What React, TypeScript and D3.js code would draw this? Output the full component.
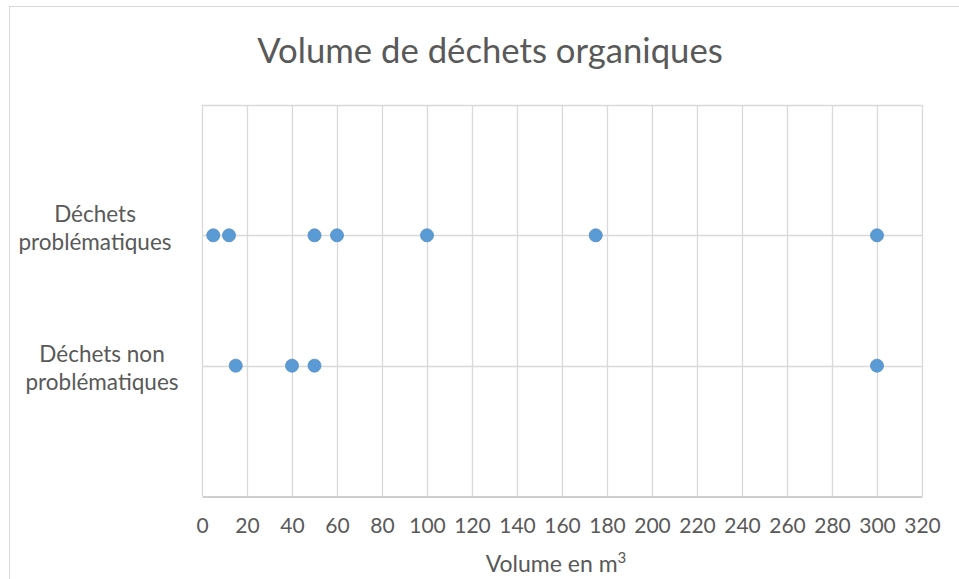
import React from "react";
import * as d3 from "d3";

const categories = ["Déchets non problématiques", "Déchets problématiques"];
const problematiques = [5, 12, 50, 60, 100, 175, 300];
const nonProblematiques = [15, 40, 50, 300];
const xTicks = d3.range(0, 321, 20);

export default function App() {
  const ref = React.useRef<SVGSVGElement>(null);

  React.useEffect(() => {
    const width = 959;
    const height = 579;
    const marginTop = 105;
    const marginLeft = 202;
    const plotRight = 922;
    const plotBottom = 496;
    const font = "Lato, sans-serif";
    const textColor = "#595959";

    const svg = d3.select(ref.current);
    svg.selectAll("*").remove();
    svg.attr("width", width).attr("height", height);

    // chart frame
    svg.append("rect")
      .attr("x", 9.5).attr("y", 6.5)
      .attr("width", width + 10).attr("height", height + 10)
      .attr("fill", "white").attr("stroke", "#d9d9d9");

    const x = d3.scaleLinear().domain([0, 320]).range([marginLeft, plotRight]);
    const y = d3.scaleLinear().domain([0, 3]).range([plotBottom, marginTop]);

    // vertical gridlines
    svg.append("g")
      .selectAll("line")
      .data(xTicks)
      .join("line")
      .attr("x1", (d) => Math.round(x(d)) + 0.5)
      .attr("x2", (d) => Math.round(x(d)) + 0.5)
      .attr("y1", marginTop)
      .attr("y2", plotBottom)
      .attr("stroke", "#d9d9d9")
      .attr("stroke-width", 1.3);

    // horizontal gridlines
    svg.append("g")
      .selectAll("line")
      .data([1, 2, 3])
      .join("line")
      .attr("x1", marginLeft)
      .attr("x2", plotRight)
      .attr("y1", (d) => Math.round(y(d)) + 0.5)
      .attr("y2", (d) => Math.round(y(d)) + 0.5)
      .attr("stroke", "#d9d9d9")
      .attr("stroke-width", 1.3);

    // x axis
    const xAxis = svg.append("g")
      .attr("transform", `translate(0,${plotBottom + 0.5})`)
      .call(d3.axisBottom(x).tickValues(xTicks).tickSize(0).tickPadding(22));
    xAxis.select(".domain").attr("stroke", "#bfbfbf").attr("stroke-width", 1.5);
    xAxis.selectAll("text")
      .attr("fill", textColor)
      .attr("font-size", 21)
      .attr("font-family", font);

    // y category labels
    const labelLines = [
      { cat: categories[1], lines: ["Déchets", "problématiques"], value: 2, cx: 95, dy: -13 },
      { cat: categories[0], lines: ["Déchets non", "problématiques"], value: 1, cx: 102, dy: -4 },
    ];
    labelLines.forEach((l) => {
      const t = svg.append("text")
        .attr("text-anchor", "middle")
        .attr("fill", textColor)
        .attr("font-size", 22.5)
        .attr("font-family", font);
      l.lines.forEach((line, i) => {
        t.append("tspan")
          .attr("x", l.cx)
          .attr("y", y(l.value) + l.dy + i * 28)
          .text(line);
      });
    });

    // points
    const series = [
      { value: 2, data: problematiques },
      { value: 1, data: nonProblematiques },
    ];
    series.forEach((s) => {
      svg.append("g")
        .selectAll("circle")
        .data(s.data)
        .join("circle")
        .attr("cx", (d) => x(d))
        .attr("cy", y(s.value))
        .attr("r", 6.5)
        .attr("fill", "#5b9bd5")
        .attr("stroke", "#4f8cc4")
        .attr("stroke-width", 0.8);
    });

    // title
    svg.append("text")
      .attr("x", 490)
      .attr("y", 63)
      .attr("text-anchor", "middle")
      .attr("fill", textColor)
      .attr("font-size", 34.7)
      .attr("font-family", font)
      .text("Volume de déchets organiques");

    // x axis title
    const xt = svg.append("text")
      .attr("x", 556)
      .attr("y", 572)
      .attr("text-anchor", "middle")
      .attr("fill", textColor)
      .attr("font-size", 23)
      .attr("font-family", font);
    xt.append("tspan").text("Volume en m");
    xt.append("tspan").attr("font-size", 15).attr("dy", -9).text("3");
  }, []);

  return <svg ref={ref} style={{ position: "absolute", left: 0, top: 0 }}></svg>;
}
